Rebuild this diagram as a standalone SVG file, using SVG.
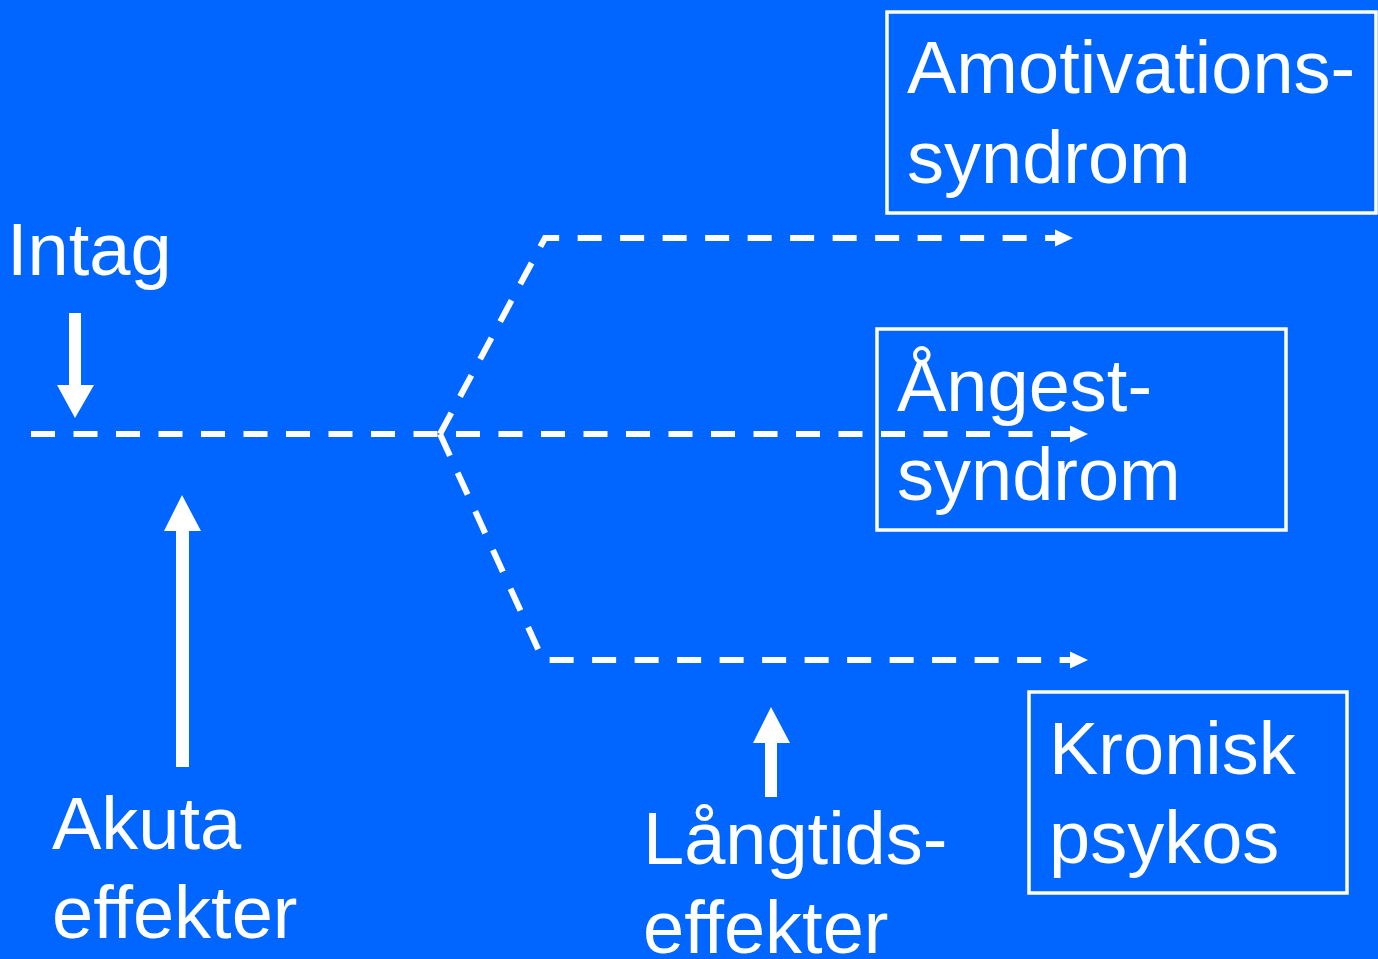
<svg xmlns="http://www.w3.org/2000/svg" width="1378" height="959" viewBox="0 0 1378 959">
  <defs>
    <style>
      .t { font-family: "Liberation Sans", Arial, sans-serif; font-size: 74px; fill: #ffffff; }
      .box { fill: none; stroke: #ffffff; stroke-width: 3.5; }
      .dash { fill: none; stroke: #ffffff; stroke-width: 6; stroke-dasharray: 24 18.5; }
      .solid { fill: #ffffff; }
    </style>
    <marker id="ah" markerUnits="userSpaceOnUse" markerWidth="20" markerHeight="20" viewBox="0 0 20 20" refX="2" refY="10" orient="auto">
      <path d="M0,1.5 L18,10 L0,18.5 Z" fill="#ffffff"/>
    </marker>
  </defs>
  <rect x="0" y="0" width="1378" height="959" fill="#0066FF"/>

  <g id="connectors">
    <path class="dash" d="M31,434 L1072,434" marker-end="url(#ah)"/>
    <path class="dash" d="M440,434 L545,238 L1057,238" marker-end="url(#ah)"/>
    <path class="dash" d="M440,434 L543,660 L1072,660" marker-end="url(#ah)"/>
    <path class="solid" d="M69,313 L81,313 L81,385 L94,385 L75,418 L57,385 L69,385 Z"/>
    <path class="solid" d="M176,767 L189,767 L189,531 L201,531 L182,495 L164,531 L176,531 Z"/>
    <path class="solid" d="M765,797 L777,797 L777,743 L790,743 L771,707 L753,743 L765,743 Z"/>
  </g>

  <g id="intag">
    <text class="t" x="7" y="275">Intag</text>
  </g>
  <g id="akuta">
    <text class="t" x="52" y="849">Akuta</text>
    <text class="t" x="52" y="938">effekter</text>
  </g>
  <g id="langtids">
    <text class="t" x="643" y="864">Långtids-</text>
    <text class="t" x="643" y="953">effekter</text>
  </g>
  <g id="amotivation">
    <rect class="box" x="887" y="12" width="489" height="201"/>
    <text class="t" x="907" y="93">Amotivations-</text>
    <text class="t" x="907" y="183">syndrom</text>
  </g>
  <g id="angest">
    <rect class="box" x="877" y="329" width="409" height="201"/>
    <text class="t" x="897" y="411">Ångest-</text>
    <text class="t" x="897" y="500">syndrom</text>
  </g>
  <g id="kronisk">
    <rect class="box" x="1029" y="692" width="318" height="201"/>
    <text class="t" x="1049" y="774">Kronisk</text>
    <text class="t" x="1049" y="863">psykos</text>
  </g>
</svg>
